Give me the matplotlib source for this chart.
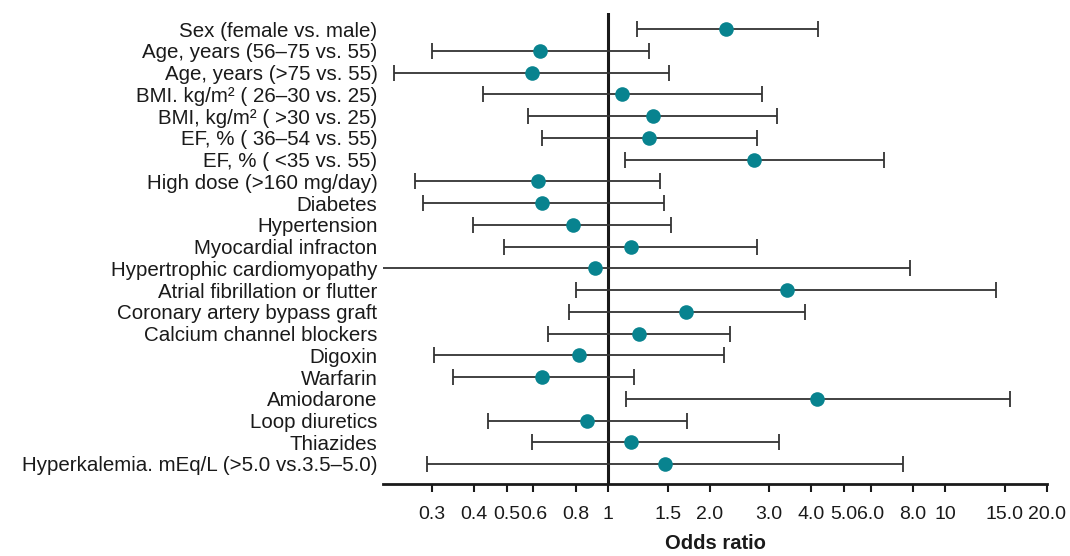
import numpy as np
import matplotlib
matplotlib.use('Agg')
import matplotlib.pyplot as plt
from matplotlib.ticker import FixedLocator, FixedFormatter, NullLocator

plt.rcParams['font.family'] = ['Liberation Sans', 'DejaVu Sans']

# -- data (odds ratio with 95% CI)
labels = [
    'Sex (female vs. male)',
    'Age, years (56\u201375 vs. 55)',
    'Age, years (>75 vs. 55)',
    'BMI. kg/m\u00b2 ( 26\u201330 vs. 25)',
    'BMI, kg/m\u00b2 ( >30 vs. 25)',
    'EF, % ( 36\u201354 vs. 55)',
    'EF, % ( <35 vs. 55)',
    'High dose (>160 mg/day)',
    'Diabetes',
    'Hypertension',
    'Myocardial infracton',
    'Hypertrophic cardiomyopathy',
    'Atrial fibrillation or flutter',
    'Coronary artery bypass graft',
    'Calcium channel blockers',
    'Digoxin',
    'Warfarin',
    'Amiodarone',
    'Loop diuretics',
    'Thiazides',
    'Hyperkalemia. mEq/L (>5.0 vs.3.5\u20135.0)',
]
odds = [2.24, 0.628, 0.595, 1.10, 1.36, 1.32, 2.70, 0.618, 0.638, 0.786, 1.17,
        0.913, 3.38, 1.70, 1.23, 0.820, 0.638, 4.15, 0.866, 1.17, 1.476]
lower = [1.22, 0.300, 0.232, 0.426, 0.579, 0.637, 1.12, 0.268, 0.282, 0.398, 0.492,
         0.19, 0.805, 0.764, 0.662, 0.305, 0.346, 1.127, 0.441, 0.595, 0.291]
upper = [4.19, 1.32, 1.51, 2.86, 3.17, 2.76, 6.56, 1.42, 1.466, 1.54, 2.77,
         7.87, 14.1, 3.84, 2.29, 2.21, 1.19, 15.5, 1.71, 3.20, 7.49]

xticks = [0.3, 0.4, 0.5, 0.6, 0.8, 1, 1.5, 2.0, 3.0, 4.0, 5.0, 6.0, 8.0, 10, 15.0, 20.0]
xticklabels = ['0.3', '0.4', '0.5', '0.6', '0.8', '1', '1.5', '2.0', '3.0', '4.0',
               '5.0', '6.0', '8.0', '10', '15.0', '20.0']

odds = np.array(odds)
lower = np.array(lower)
upper = np.array(upper)
y = np.arange(len(labels))

fig = plt.figure(figsize=(10.7, 5.56), dpi=100)
ax = fig.add_axes([0.358, 0.1295, 0.6205, 0.847])

ax.axvline(1, color='#1a1a1a', lw=2.2, zorder=1)
ax.errorbar(odds, y, xerr=[odds - lower, upper - odds], fmt='none',
            ecolor='#333333', elinewidth=1.3, capsize=5.5, capthick=1.3, zorder=2)
ax.plot(odds, y, 'o', color='#08838F', ms=10.5, mec='none', zorder=3)

ax.set_xscale('log')
ax.set_xlim(0.215, 20)
ax.set_ylim(len(labels) - 1 + 0.92, -0.74)

ax.xaxis.set_major_locator(FixedLocator(xticks))
ax.xaxis.set_major_formatter(FixedFormatter(xticklabels))
ax.xaxis.set_minor_locator(NullLocator())
ax.tick_params(axis='x', length=6, width=1.5, pad=10, labelsize=14, colors='#1a1a1a')

ax.set_yticks(y)
ax.set_yticklabels(labels, fontsize=14.8, color='#1a1a1a')
ax.tick_params(axis='y', length=0, pad=4)

for s in ['left', 'top', 'right']:
    ax.spines[s].set_visible(False)
ax.spines['bottom'].set_linewidth(2)
ax.spines['bottom'].set_color('#1a1a1a')

ax.set_xlabel('Odds ratio', fontsize=14.5, fontweight='bold', labelpad=8,
              color='#1a1a1a')

fig.savefig('out.png', dpi=100)
